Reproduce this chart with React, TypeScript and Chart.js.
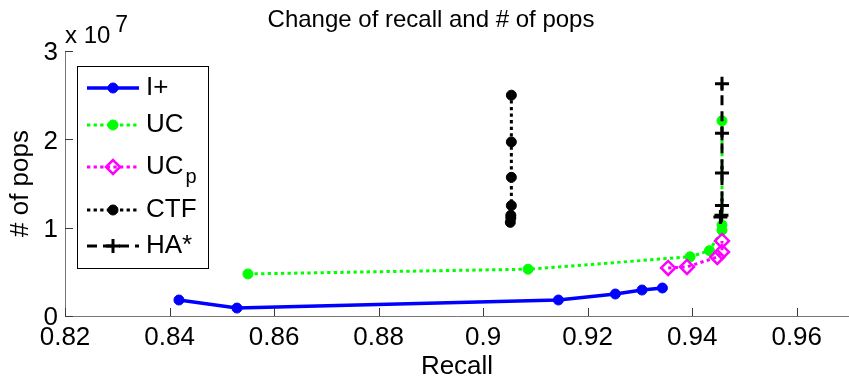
import React, { useEffect, useRef } from 'react';
import { Chart, registerables } from 'chart.js';
import { drawPoint } from 'chart.js/helpers';

Chart.register(...registerables);

const TITLE = 'Change of recall and # of pops';
const X_LABEL = 'Recall';
const Y_LABEL = '# of pops';
const Y_EXPONENT_BASE = 'x 10';
const Y_EXPONENT = '7';

const X_TICKS = [0.82, 0.84, 0.86, 0.88, 0.9, 0.92, 0.94, 0.96];
const X_TICK_LABELS = ['0.82', '0.84', '0.86', '0.88', '0.9', '0.92', '0.94', '0.96'];
const Y_TICKS = [0, 1e7, 2e7, 3e7];
const Y_TICK_LABELS = ['0', '1', '2', '3'];

const SERIES_NAMES = ['I+', 'UC', 'UC', 'CTF', 'HA*'];
const SERIES_SUBSCRIPTS = ['', '', 'p', '', ''];

const iplusRecall = [0.8418, 0.8529, 0.9144, 0.9253, 0.9304, 0.9343];
const iplusPops = [1.81e6, 0.9e6, 1.81e6, 2.49e6, 2.94e6, 3.17e6];

const ucRecall = [0.855, 0.9086, 0.9396, 0.9433, 0.9457, 0.9457, 0.9457];
const ucPops = [4.76e6, 5.3e6, 6.7e6, 7.4e6, 9.7e6, 10.3e6, 22.1e6];

const ucpRecall = [0.9354, 0.939, 0.9448, 0.9457, 0.9457];
const ucpPops = [5.44e6, 5.55e6, 6.68e6, 7.25e6, 8.5e6];

const ctfRecall = [0.9052, 0.9053, 0.9053, 0.9054, 0.9054, 0.9054, 0.9054];
const ctfPops = [10.6e6, 11.1e6, 11.4e6, 12.5e6, 15.7e6, 19.7e6, 25.0e6];

const haRecall = [0.9454, 0.9456, 0.9457, 0.9457, 0.9457, 0.9457];
const haPops = [11.2e6, 11.4e6, 12.5e6, 16.2e6, 20.7e6, 26.3e6];

const FONT = '"Liberation Sans", Arial, Helvetica, sans-serif';
const LEGEND_ROW_Y = [88, 125, 167, 210, 246];

const toPoints = (xs: number[], ys: number[]) => xs.map((x, i) => ({ x, y: ys[i] }));

const labelFor = (ticks: number[], labels: string[], v: number) => {
  const i = ticks.findIndex((t) => Math.abs(t - v) < 1e-9 * Math.max(1, Math.abs(t)));
  return i >= 0 ? labels[i] : '';
};

const matlabPlugin = {
  id: 'matlabDecor',
  afterDraw(chart: any) {
    const ctx = chart.ctx as CanvasRenderingContext2D;
    const area = chart.chartArea;
    const xs = chart.scales.x;
    const ys = chart.scales.y;
    ctx.save();
    // inward tick marks
    ctx.strokeStyle = '#3a3a3a';
    ctx.lineWidth = 1;
    ctx.beginPath();
    X_TICKS.forEach((v) => {
      const px = Math.round(xs.getPixelForValue(v)) + 0.5;
      ctx.moveTo(px, area.bottom);
      ctx.lineTo(px, area.bottom - 8);
    });
    Y_TICKS.forEach((v) => {
      const py = Math.round(ys.getPixelForValue(v)) + 0.5;
      ctx.moveTo(area.left, py);
      ctx.lineTo(area.left + 8, py);
    });
    ctx.stroke();

    // exponent label
    ctx.fillStyle = '#000';
    ctx.textBaseline = 'alphabetic';
    ctx.textAlign = 'left';
    ctx.font = `24px ${FONT}`;
    ctx.fillText(Y_EXPONENT_BASE, area.left, 43);
    const w = ctx.measureText(Y_EXPONENT_BASE).width;
    ctx.font = `23px ${FONT}`;
    ctx.fillText(Y_EXPONENT, area.left + w + 5, 32);

    // legend
    const bx = 77.5, by = 66.5, bw = 131, bh = 202;
    ctx.fillStyle = '#fff';
    ctx.fillRect(bx, by, bw, bh);
    ctx.strokeStyle = '#000';
    ctx.lineWidth = 1;
    ctx.strokeRect(bx, by, bw, bh);
    chart.data.datasets.forEach((ds: any, i: number) => {
      const y = LEGEND_ROW_Y[i];
      ctx.save();
      ctx.strokeStyle = ds.borderColor;
      ctx.lineWidth = ds.borderWidth;
      ctx.setLineDash(ds.borderDash || []);
      ctx.beginPath();
      ctx.moveTo(87, y);
      ctx.lineTo(139, y);
      ctx.stroke();
      ctx.setLineDash([]);
      ctx.fillStyle = ds.pointBackgroundColor;
      ctx.strokeStyle = ds.pointBorderColor;
      ctx.lineWidth = ds.pointBorderWidth;
      drawPoint(ctx, { pointStyle: ds.pointStyle, radius: ds.pointRadius, rotation: 0, borderWidth: ds.pointBorderWidth }, 113, y);
      ctx.restore();
      ctx.fillStyle = '#000';
      ctx.font = `26px ${FONT}`;
      ctx.textBaseline = 'middle';
      ctx.textAlign = 'left';
      ctx.fillText(SERIES_NAMES[i], 146, y);
      if (SERIES_SUBSCRIPTS[i]) {
        const tw = ctx.measureText(SERIES_NAMES[i]).width;
        ctx.font = `20px ${FONT}`;
        ctx.textBaseline = 'alphabetic';
        ctx.fillText(SERIES_SUBSCRIPTS[i], 146 + tw + 2, y + 16);
      }
    });
    ctx.restore();
  },
};

export default function App() {
  const ref = useRef<HTMLCanvasElement | null>(null);

  useEffect(() => {
    document.body.style.margin = '0';
    const canvas = ref.current;
    if (!canvas) return;
    const dotted = [3.3, 3.3];
    const datasets: any[] = [
      {
        label: 'I+',
        data: toPoints(iplusRecall, iplusPops),
        borderColor: '#0000ff',
        borderWidth: 3.5,
        pointStyle: 'circle',
        pointRadius: 5,
        pointBackgroundColor: '#0000ff',
        pointBorderColor: '#0000ff',
        pointBorderWidth: 1,
      },
      {
        label: 'UC',
        data: toPoints(ucRecall, ucPops),
        borderColor: '#00ff00',
        borderWidth: 3,
        borderDash: dotted,
        pointStyle: 'circle',
        pointRadius: 5,
        pointBackgroundColor: '#00ff00',
        pointBorderColor: '#00ff00',
        pointBorderWidth: 1,
      },
      {
        label: 'UC_p',
        data: toPoints(ucpRecall, ucpPops),
        borderColor: '#ff00ff',
        borderWidth: 3,
        borderDash: dotted,
        pointStyle: 'rectRot',
        pointRadius: 7,
        pointBackgroundColor: 'rgba(255,255,255,0)',
        pointBorderColor: '#ff00ff',
        pointBorderWidth: 2.5,
      },
      {
        label: 'CTF',
        data: toPoints(ctfRecall, ctfPops),
        borderColor: '#000000',
        borderWidth: 3,
        borderDash: dotted,
        pointStyle: 'circle',
        pointRadius: 5,
        pointBackgroundColor: '#000000',
        pointBorderColor: '#000000',
        pointBorderWidth: 1,
      },
      {
        label: 'HA*',
        data: toPoints(haRecall, haPops),
        borderColor: '#000000',
        borderWidth: 3,
        borderDash: [10, 6],
        pointStyle: 'cross',
        pointRadius: 7,
        pointBackgroundColor: '#000000',
        pointBorderColor: '#000000',
        pointBorderWidth: 3,
      },
    ];
    datasets.forEach((d, i) => {
      d.showLine = true;
      d.fill = false;
      d.tension = 0;
      d.order = datasets.length - 1 - i;
    });

    const chart = new Chart(canvas, {
      type: 'scatter',
      data: { datasets },
      options: {
        animation: false,
        responsive: false,
        maintainAspectRatio: false,
        devicePixelRatio: 1,
        layout: { autoPadding: false, padding: { left: 13, top: 0, right: 0, bottom: 0 } },
        plugins: {
          legend: { display: false },
          tooltip: { enabled: false },
          title: {
            display: true,
            text: TITLE,
            color: '#000',
            font: { family: FONT, size: 24, weight: 'normal', lineHeight: 1.2 },
            padding: { top: 6, bottom: 16.2 },
          },
        },
        scales: {
          x: {
            type: 'linear',
            min: 0.82,
            max: 0.97,
            afterBuildTicks: (s: any) => {
              s.ticks = X_TICKS.map((v) => ({ value: v }));
            },
            afterFit: (s: any) => {
              s.height = 62;
              s.paddingLeft = 0;
              s.paddingRight = 0;
            },
            ticks: {
              autoSkip: false,
              maxRotation: 0,
              color: '#000',
              padding: 6,
              font: { family: FONT, size: 26 },
              callback: (v: any) => labelFor(X_TICKS, X_TICK_LABELS, Number(v)),
            },
            grid: { display: true, drawOnChartArea: false, drawTicks: false },
            border: { display: true, color: '#767676', width: 1 },
            title: {
              display: true,
              text: X_LABEL,
              color: '#000',
              padding: 0,
              font: { family: FONT, size: 26, lineHeight: 0.846 },
            },
          },
          y: {
            type: 'linear',
            min: 0,
            max: 3e7,
            afterBuildTicks: (s: any) => {
              s.ticks = Y_TICKS.map((v) => ({ value: v }));
            },
            afterFit: (s: any) => {
              s.width = 52;
              s.paddingTop = 0;
              s.paddingBottom = 0;
            },
            ticks: {
              autoSkip: false,
              color: '#000',
              padding: 7,
              labelOffset: 2,
              font: { family: FONT, size: 26 },
              callback: (v: any) => labelFor(Y_TICKS, Y_TICK_LABELS, Number(v)),
            },
            grid: { display: true, drawOnChartArea: false, drawTicks: false },
            border: { display: true, color: '#767676', width: 1 },
            title: {
              display: true,
              text: Y_LABEL,
              color: '#000',
              padding: 0,
              font: { family: FONT, size: 26, lineHeight: 0.58 },
            },
          },
        },
      },
      plugins: [matlabPlugin],
    } as any);
    return () => chart.destroy();
  }, []);

  return (
    <div style={{ width: 849, height: 378 }}>
      <canvas ref={ref} width={849} height={378} style={{ display: 'block', width: 849, height: 378 }} />
    </div>
  );
}
